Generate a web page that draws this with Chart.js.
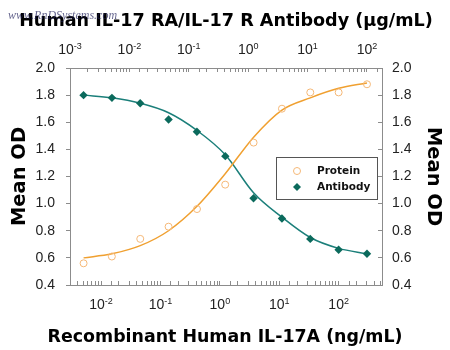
<!DOCTYPE html>
<html>
<head>
<meta charset="utf-8">
<script src="https://cdn.jsdelivr.net/npm/chart.js@4.4.1/dist/chart.umd.min.js"></script>
<style>
  body { margin: 0; background: #fff; }
  #wrap { width: 450px; height: 350px; }
</style>
</head>
<body>
<div id="wrap"><canvas id="odChart"></canvas></div>
<script>
// concentrations (3-fold dilutions)
const proteinConc = [0.00508, 0.0152, 0.0457, 0.137, 0.412, 1.23, 3.70, 11.1, 33.3, 100, 300]; // ng/mL
const antibodyConc = [0.00169, 0.00508, 0.0152, 0.0457, 0.137, 0.412, 1.23, 3.70, 11.1, 33.3, 100]; // ug/mL

// measured OD
const proteinOD = [0.56, 0.61, 0.74, 0.83, 0.96, 1.14, 1.45, 1.70, 1.82, 1.82, 1.88];
const antibodyOD = [1.80, 1.78, 1.74, 1.62, 1.53, 1.35, 1.04, 0.89, 0.74, 0.66, 0.63];

// fitted curves
const proteinFit = [0.60, 0.63, 0.69, 0.80, 0.98, 1.22, 1.49, 1.69, 1.78, 1.85, 1.89];
const antibodyFit = [1.80, 1.78, 1.74, 1.67, 1.54, 1.36, 1.08, 0.90, 0.75, 0.67, 0.63];

// decade labels
const topTicks = [0.001, 0.01, 0.1, 1, 10, 100];
const topExp = ["-3", "-2", "-1", "0", "1", "2"];
const bottomTicks = [0.01, 0.1, 1, 10, 100];
const bottomExp = ["-2", "-1", "0", "1", "2"];

const topTitle = "Human IL-17 RA/IL-17 R Antibody (\u03bcg/mL)";
const bottomTitle = "Recombinant Human IL-17A (ng/mL)";

const FONT = '"Liberation Sans", Arial, sans-serif';
const BOLD = '"DejaVu Sans", sans-serif';
const orange = "#f0a030";
const orangeLight = "#f5b877";
const teal = "#1b7f7a";
const tealDark = "#0b6a5c";
const axisGray = "#8c8c8c";

function pts(xs, ys) {
  return xs.map((x, i) => ({ x: x, y: ys[i] }));
}

// draw 10^n labels on the x axes
function drawPowers(ctx, scale, values, exps, baseline) {
  values.forEach((v, i) => {
    const x = scale.getPixelForValue(v);
    ctx.font = "14px " + FONT;
    const w1 = ctx.measureText("10").width;
    ctx.font = "9px " + FONT;
    const w2 = ctx.measureText(exps[i]).width;
    const start = x - (w1 + w2) / 2;
    ctx.fillStyle = "#222";
    ctx.textAlign = "left";
    ctx.textBaseline = "alphabetic";
    ctx.font = "14px " + FONT;
    ctx.fillText("10", start, baseline);
    ctx.font = "9px " + FONT;
    ctx.fillText(exps[i], start + w1, baseline - 5);
  });
}

const extrasPlugin = {
  id: "extras",
  afterDraw(chart) {
    const ctx = chart.ctx;
    ctx.save();
    drawPowers(ctx, chart.scales.xTop, topTicks, topExp, 54);
    drawPowers(ctx, chart.scales.x, bottomTicks, bottomExp, 309);

    // axis titles (drawn here so they are not squeezed to the axis width)
    ctx.fillStyle = "#000";
    ctx.textAlign = "center";
    ctx.textBaseline = "alphabetic";
    ctx.font = "bold 17.6px " + BOLD;
    ctx.fillText(topTitle, 226, 26);
    ctx.font = "bold 17.4px " + BOLD;
    ctx.fillText(bottomTitle, 225, 342);

    // legend box
    ctx.strokeStyle = "#555";
    ctx.lineWidth = 1;
    ctx.strokeRect(276.5, 157.5, 101, 42);
    const items = [chart.data.datasets[0], chart.data.datasets[1]];
    items.forEach((ds, i) => {
      const y = 171 + i * 16;
      ctx.beginPath();
      if (ds.pointStyle === "rectRot") {
        ctx.moveTo(297, y - 4); ctx.lineTo(301, y); ctx.lineTo(297, y + 4); ctx.lineTo(293, y);
        ctx.closePath();
        ctx.fillStyle = ds.backgroundColor;
        ctx.fill();
      } else {
        ctx.arc(297, y, 3.5, 0, Math.PI * 2);
        ctx.strokeStyle = ds.borderColor;
        ctx.stroke();
      }
      ctx.fillStyle = "#111";
      ctx.font = "bold 10.5px " + BOLD;
      ctx.textAlign = "left";
      ctx.textBaseline = "middle";
      ctx.fillText(ds.label, 317, y);
    });

    // faint watermark
    ctx.font = "italic 12px \"Liberation Serif\", serif";
    ctx.fillStyle = "rgba(30,30,90,0.7)";
    ctx.textBaseline = "alphabetic";
    ctx.fillText("www.RnDSystems.com", 8, 19);
    ctx.restore();
  }
};

const ctx = document.getElementById("odChart").getContext("2d");
new Chart(ctx, {
  type: "scatter",
  data: {
    datasets: [
      {
        label: "Protein",
        data: pts(proteinConc, proteinOD),
        xAxisID: "x",
        pointStyle: "circle",
        pointRadius: 3.5,
        borderWidth: 1,
        borderColor: orangeLight,
        backgroundColor: "rgba(0,0,0,0)",
        showLine: false,
        order: 1
      },
      {
        label: "Antibody",
        data: pts(antibodyConc, antibodyOD),
        xAxisID: "xTop",
        pointStyle: "rectRot",
        pointRadius: 4.2,
        borderWidth: 0,
        borderColor: tealDark,
        backgroundColor: tealDark,
        showLine: false,
        order: 1
      },
      {
        label: "Protein fit",
        data: pts(proteinConc, proteinFit),
        xAxisID: "x",
        showLine: true,
        pointRadius: 0,
        borderColor: orange,
        borderWidth: 1.5,
        cubicInterpolationMode: "monotone",
        order: 2
      },
      {
        label: "Antibody fit",
        data: pts(antibodyConc, antibodyFit),
        xAxisID: "xTop",
        showLine: true,
        pointRadius: 0,
        borderColor: teal,
        borderWidth: 1.5,
        cubicInterpolationMode: "monotone",
        order: 2
      }
    ]
  },
  options: {
    responsive: true,
    maintainAspectRatio: false,
    animation: false,
    layout: { padding: 0 },
    plugins: {
      legend: { display: false },
      tooltip: { enabled: false }
    },
    scales: {
      x: {
        type: "logarithmic",
        position: "bottom",
        min: 0.003,
        max: 537,
        afterFit: (s) => { s.height = 65; },
        ticks: { display: false, autoSkip: false },
        grid: { drawOnChartArea: false, tickLength: -4, color: axisGray },
        border: { color: axisGray }
      },
      xTop: {
        type: "logarithmic",
        position: "top",
        min: 0.001,
        max: 179,
        afterFit: (s) => { s.height = 68; },
        ticks: { display: false, autoSkip: false },
        grid: { drawOnChartArea: false, tickLength: -4, color: axisGray },
        border: { color: axisGray }
      },
      y: {
        position: "left",
        min: 0.4,
        max: 2.0,
        afterFit: (s) => { s.width = 70; },
        ticks: {
          stepSize: 0.2,
          color: "#222",
          padding: 11,
          font: { family: FONT, size: 14 },
          callback: (v) => v.toFixed(1)
        },
        grid: { drawOnChartArea: false, tickLength: 4, color: axisGray },
        border: { color: axisGray },
        title: {
          display: true,
          text: "Mean OD",
          color: "#000",
          font: { family: BOLD, size: 19.5, weight: "bold" },
          padding: { top: 8, bottom: 0 }
        }
      },
      yRight: {
        position: "right",
        min: 0.4,
        max: 2.0,
        afterFit: (s) => { s.width = 68; },
        ticks: {
          stepSize: 0.2,
          color: "#222",
          padding: 14,
          font: { family: FONT, size: 14 },
          callback: (v) => v.toFixed(1)
        },
        grid: { drawOnChartArea: false, tickLength: -4, color: axisGray },
        border: { color: axisGray },
        title: {
          display: true,
          text: "Mean OD",
          color: "#000",
          font: { family: BOLD, size: 19.5, weight: "bold" },
          padding: { top: 5, bottom: 0 }
        }
      }
    }
  },
  plugins: [extrasPlugin]
});
</script>
</body>
</html>
